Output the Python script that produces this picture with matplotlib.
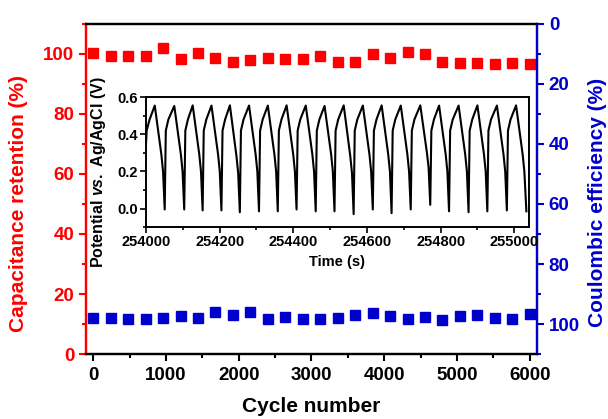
import numpy as np
import matplotlib
matplotlib.use('Agg')
import matplotlib.pyplot as plt
from matplotlib.ticker import MultipleLocator

plt.rcParams['font.family'] = 'Liberation Sans'
plt.rcParams['font.weight'] = 'bold'
plt.rcParams['mathtext.fontset'] = 'custom'
plt.rcParams['mathtext.it'] = 'Liberation Sans:italic:bold'
plt.rcParams['mathtext.rm'] = 'Liberation Sans:bold'

RED = '#ff0000'
BLUE = '#0000cc'

# -------------------- data --------------------------------------------------------------------------------------------

cycles = [0, 240, 480, 720, 960, 1200, 1440, 1680, 1920, 2160, 2400, 2640, 2880,
          3120, 3360, 3600, 3840, 4080, 4320, 4560, 4800, 5040, 5280, 5520, 5760, 6000]

retention = [100.4, 99.3, 99.3, 99.4, 101.9, 98.3, 100.4, 98.8, 97.2, 98.0, 98.8, 98.3, 98.2,
             99.4, 97.4, 97.2, 99.9, 98.8, 100.6, 99.9, 97.4, 97.1, 97.0, 96.7, 97.0, 96.6]

efficiency = [97.9, 97.9, 98.3, 98.2, 98.1, 97.4, 98.0, 96.1, 96.9, 96.0, 98.2, 97.6, 98.4,
              98.2, 98.1, 97.1, 96.4, 97.4, 98.4, 97.6, 98.6, 97.4, 96.9, 98.0, 98.2, 96.8]

# inset: galvanostatic charge/discharge trace, time in s after 254000
t_rel = [0, 2, 10,
         24, 42, 46.5, 51, 54, 61,
         77, 95, 99.5, 104, 107, 114,
         127, 145, 149.5, 154, 157, 164,
         178, 196, 200.5, 205, 208, 215,
         228, 246, 250.5, 255, 258, 265,
         280, 298, 302.5, 307, 310, 317,
         331, 349, 353.5, 358, 361, 368,
         382, 400, 404.5, 409, 412, 419,
         434, 452, 456.5, 461, 464, 471,
         485, 503, 507.5, 512, 515, 522,
         537, 555, 559.5, 564, 567, 574,
         589, 607, 611.5, 616, 619, 626,
         640, 658, 662.5, 667, 670, 677,
         692, 710, 714.5, 719, 722, 729,
         745, 763, 767.5, 772, 775, 782,
         796, 814, 818.5, 823, 826, 833,
         849, 867, 871.5, 876, 879, 886,
         900, 918, 922.5, 927, 930, 937,
         953, 971, 975.5, 980, 983, 990,
         1005, 1023, 1027.5, 1033]

potential = [0.34, 0.42, 0.48,
             0.555, 0.29, 0.20, -0.005, 0.42, 0.48,
             0.553, 0.29, 0.20, -0.005, 0.42, 0.48,
             0.556, 0.29, 0.20, -0.010, 0.42, 0.48,
             0.555, 0.29, 0.20, -0.010, 0.42, 0.48,
             0.556, 0.28, 0.19, -0.020, 0.42, 0.48,
             0.555, 0.29, 0.20, -0.015, 0.42, 0.48,
             0.555, 0.29, 0.20, -0.015, 0.42, 0.48,
             0.556, 0.29, 0.20, -0.005, 0.42, 0.48,
             0.555, 0.29, 0.20, -0.015, 0.42, 0.48,
             0.553, 0.29, 0.20, -0.015, 0.42, 0.48,
             0.556, 0.28, 0.19, -0.030, 0.42, 0.48,
             0.555, 0.29, 0.20, -0.005, 0.42, 0.48,
             0.556, 0.29, 0.20, -0.025, 0.42, 0.48,
             0.555, 0.29, 0.20, -0.005, 0.42, 0.48,
             0.556, 0.30, 0.22, 0.020, 0.42, 0.48,
             0.555, 0.29, 0.20, -0.015, 0.42, 0.48,
             0.555, 0.29, 0.20, -0.020, 0.42, 0.48,
             0.556, 0.29, 0.20, -0.015, 0.42, 0.48,
             0.555, 0.29, 0.20, -0.010, 0.42, 0.48,
             0.556, 0.29, 0.20, -0.015]

# -------------------- main plot ---------------------------------------------------------------------------------------

fig = plt.figure(figsize=(6.08, 4.19), dpi=100)
ax = fig.add_axes([0.1414, 0.155, 0.7418, 0.788])
ax2 = ax.twinx()

ax.plot(cycles, retention, 's', color=RED, markersize=7.5, clip_on=False)
ax2.plot(cycles, efficiency, 's', color=BLUE, markersize=7.5, clip_on=False)

ax.set_xlim(-100, 6100)
ax.set_ylim(0, 110)
ax2.set_ylim(110, 0)

ax.xaxis.set_major_locator(MultipleLocator(1000))
ax.xaxis.set_minor_locator(MultipleLocator(500))
ax.yaxis.set_major_locator(MultipleLocator(20))
ax.yaxis.set_minor_locator(MultipleLocator(10))
ax2.yaxis.set_major_locator(MultipleLocator(20))
ax2.yaxis.set_minor_locator(MultipleLocator(10))

for a in (ax, ax2):
    for s in a.spines.values():
        s.set_linewidth(1.6)
    a.spines['left'].set_color(RED)
    a.spines['right'].set_color(BLUE)

ax.tick_params(axis='x', which='both', direction='out', width=1.5, labelsize=13.5, top=False, pad=4)
ax.tick_params(axis='x', which='major', length=5)
ax.tick_params(axis='x', which='minor', length=3)
ax.tick_params(axis='y', which='both', direction='out', width=1.5, colors=RED, labelsize=13.5)
ax.tick_params(axis='y', which='major', length=5)
ax.tick_params(axis='y', which='minor', length=3)
ax2.tick_params(axis='y', which='both', direction='out', width=1.5, colors=BLUE, labelsize=13.5)
ax2.tick_params(axis='y', which='major', length=5)
ax2.tick_params(axis='y', which='minor', length=3)

ax.set_xlabel('Cycle number', fontsize=15, fontweight='bold', labelpad=10)
ax.set_ylabel('Capacitance retention (%)', fontsize=15, fontweight='bold', color=RED)
ax2.set_ylabel('Coulombic efficiency (%)', fontsize=15, fontweight='bold', color=BLUE)
ax.yaxis.set_label_coords(-0.128, 0.455)
ax2.yaxis.set_label_coords(1.113, 0.46)

# -------------------- inset --------------------------------------------------------------------------------------------

ins = fig.add_axes([0.240, 0.458, 0.630, 0.310])
ins.plot(np.array(t_rel) + 254000, potential, color='black', linewidth=1.5)
ins.set_xlim(254000, 255040)
ins.set_ylim(-0.1, 0.6)
ins.xaxis.set_major_locator(MultipleLocator(200))
ins.xaxis.set_minor_locator(MultipleLocator(100))
ins.yaxis.set_major_locator(MultipleLocator(0.2))
ins.yaxis.set_minor_locator(MultipleLocator(0.1))
ins.yaxis.set_major_formatter(plt.FormatStrFormatter('%.1f'))
for s in ins.spines.values():
    s.set_linewidth(1.4)
ins.tick_params(which='both', direction='out', width=1.2, labelsize=10.5, pad=2)
ins.tick_params(which='major', length=4)
ins.tick_params(which='minor', length=2.5)
ins.set_xlabel('Time (s)', fontsize=10.5, fontweight='bold', labelpad=4)
ins.set_ylabel('Potential $\\mathit{vs.}$ Ag/AgCl (V)', fontsize=11.5, fontweight='bold')
ins.yaxis.set_label_coords(-0.10, 0.42)

fig.savefig('out.png', dpi=100)
